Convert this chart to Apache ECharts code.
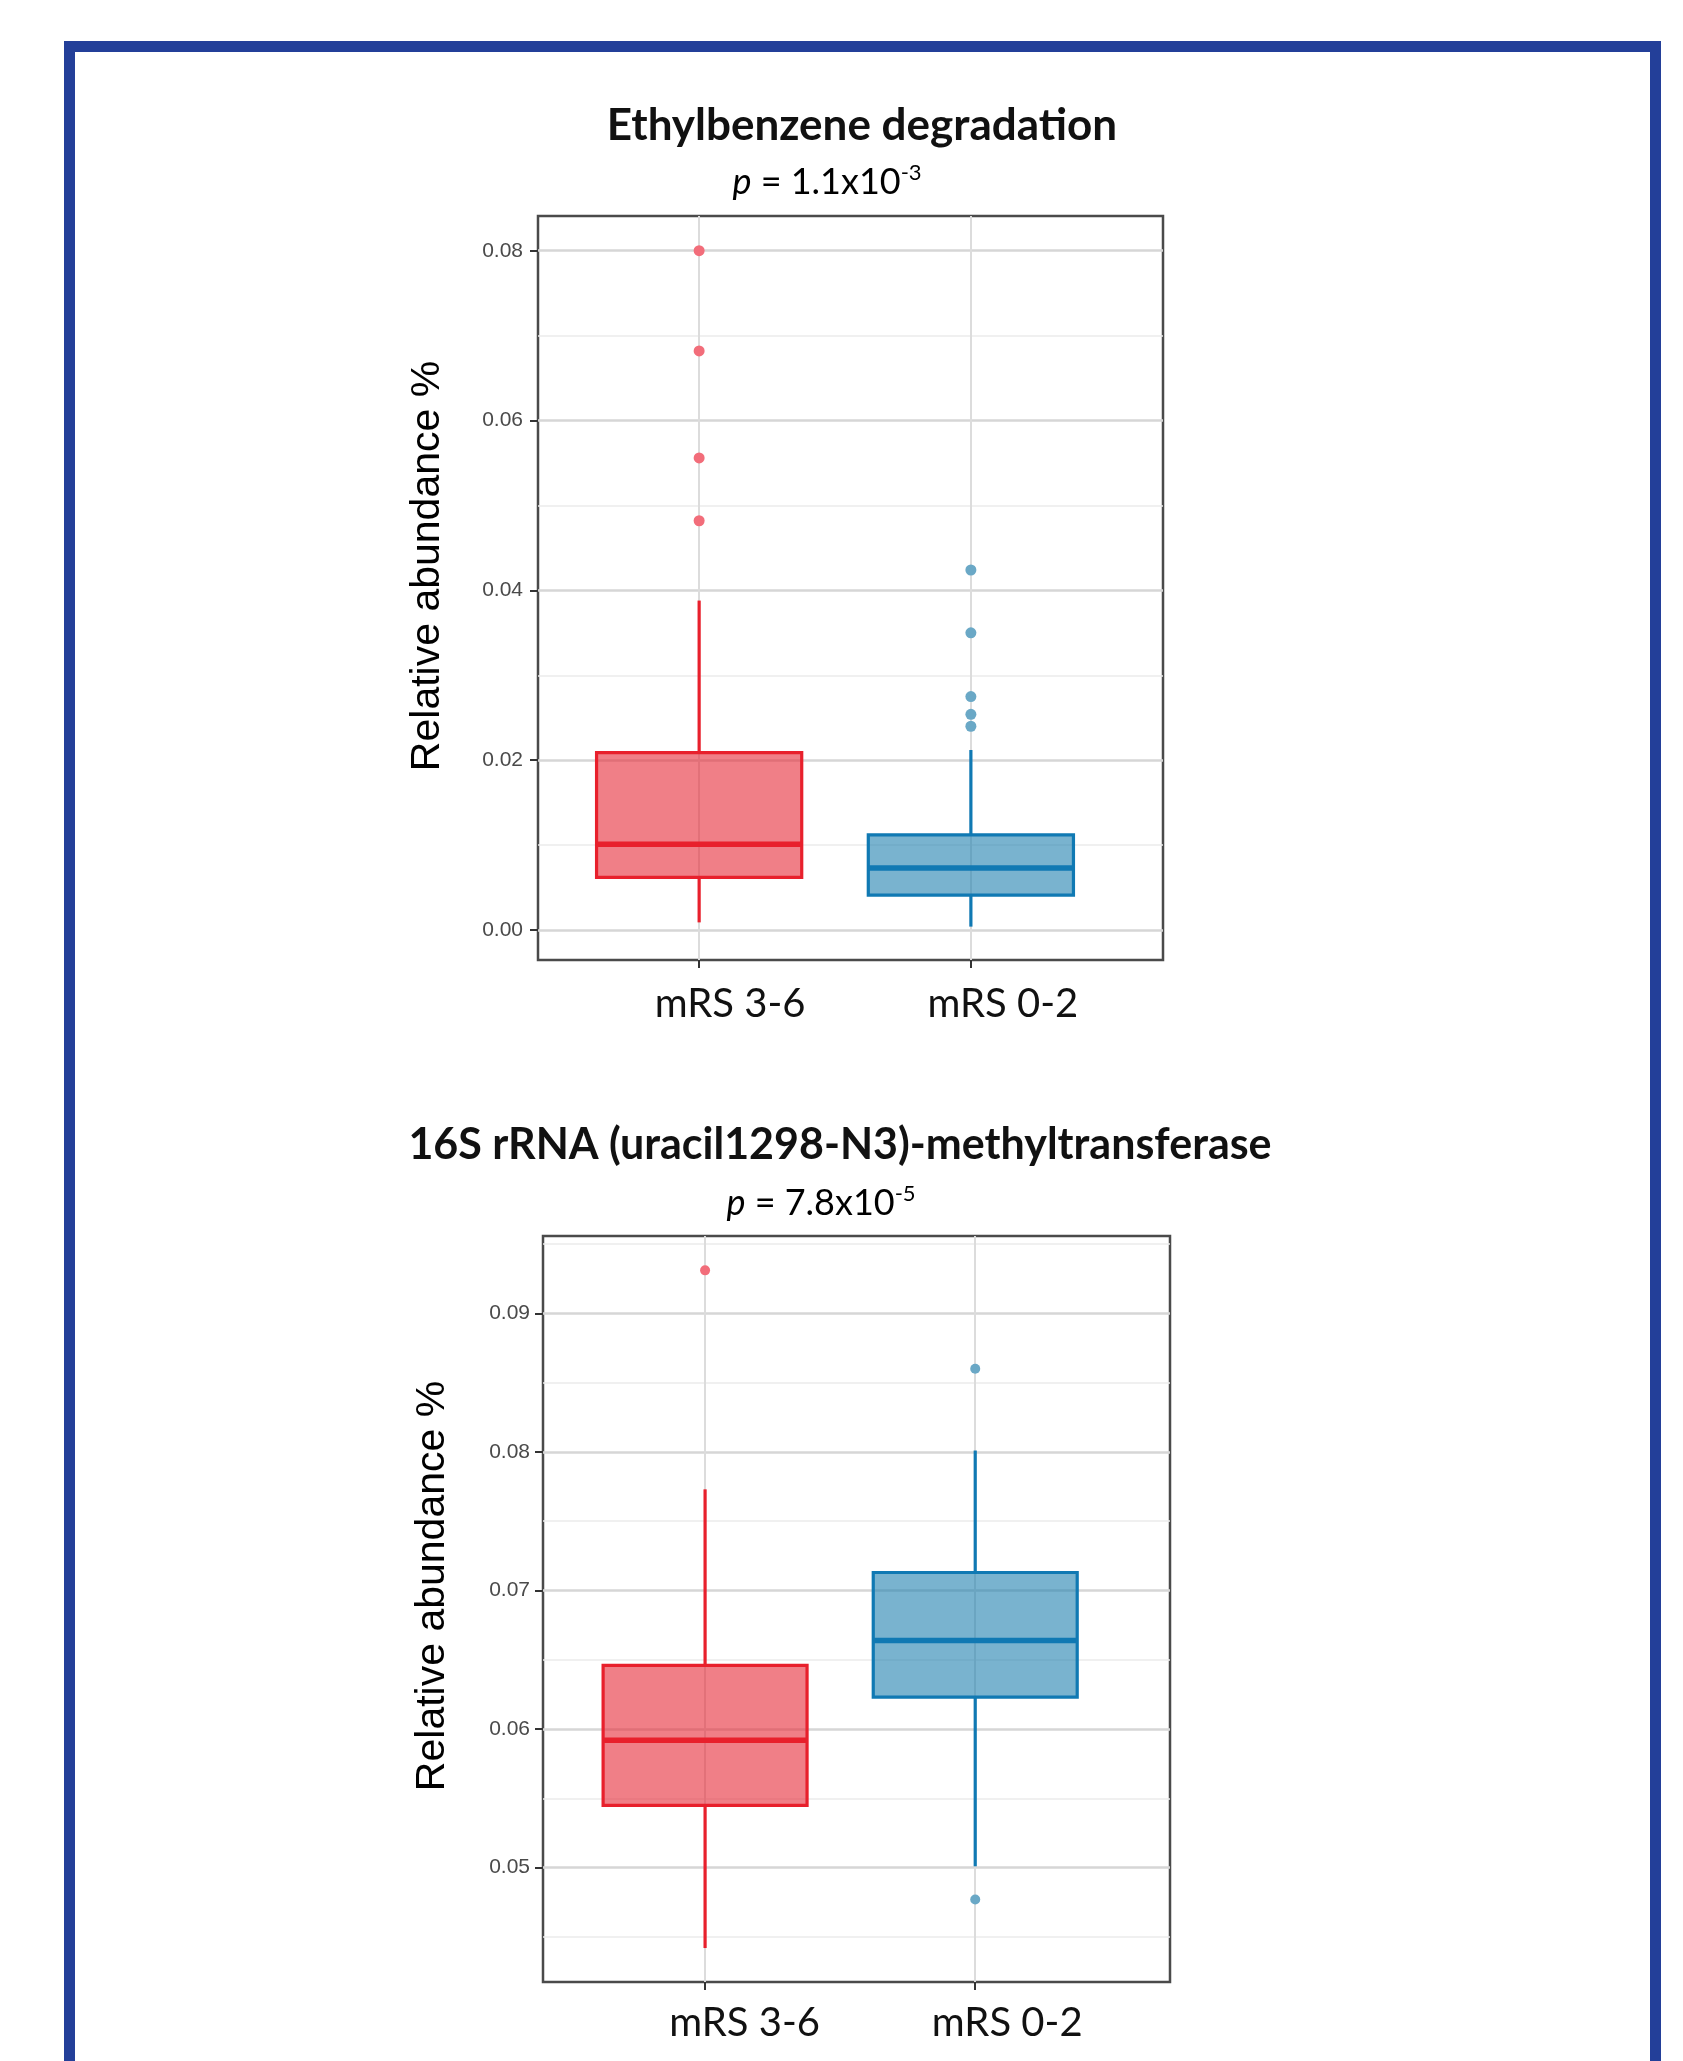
<!DOCTYPE html>
<html>
<head>
<meta charset="utf-8">
<script src="https://cdn.jsdelivr.net/npm/echarts@6/dist/echarts.min.js"></script>
<style>
html,body{margin:0;padding:0;background:#fff;}
#chart{width:1683px;height:2061px;}
</style>
</head>
<body>
<div id="chart"></div>
<script>
// ---------------- data ----------------
const categories = ['mRS 3-6', 'mRS 0-2'];

// Panel 1: Ethylbenzene degradation
const title1 = 'Ethylbenzene degradation';
const pValue1 = ['1.1x10', '-3'];
// [lower whisker, Q1, median, Q3, upper whisker]
const ethylBoxRed = [0.0009, 0.0062, 0.0101, 0.0209, 0.0388];
const ethylBoxBlue = [0.0004, 0.0041, 0.0073, 0.0112, 0.0212];
const ethylOutRed = [0.0800, 0.0682, 0.0556, 0.0482];
const ethylOutBlue = [0.0424, 0.0350, 0.0275, 0.0254, 0.0240];
const ethylMajorTicks = [0, 0.02, 0.04, 0.06, 0.08];
const ethylMinorTicks = [0.01, 0.03, 0.05, 0.07];

// Panel 2: 16S rRNA (uracil1298-N3)-methyltransferase
const title2 = '16S rRNA (uracil1298-N3)-methyltransferase';
const pValue2 = ['7.8x10', '-5'];
const rrnaBoxRed = [0.0442, 0.0545, 0.0592, 0.0646, 0.0773];
const rrnaBoxBlue = [0.0501, 0.0623, 0.0664, 0.0713, 0.0801];
const rrnaOutRed = [0.0931];
const rrnaOutBlue = [0.0860, 0.0477];
const rrnaMajorTicks = [0.05, 0.06, 0.07, 0.08, 0.09];
const rrnaMinorTicks = [0.045, 0.055, 0.065, 0.075, 0.085, 0.095];

const yTitle = 'Relative abundance %';

// ---------------- styles ----------------
const STROKE = ['#e8202c', '#1079b3'];
const FILL = ['rgba(230,42,55,0.6)', 'rgba(32,128,175,0.6)'];
const DOT = ['#f26d7a', '#6aa8c6'];
const BOX_W = 0.755;

function boxData(red, blue) {
  return [[1].concat(red), [2].concat(blue)];
}
function outData(red, blue) {
  return red.map(v => [1, v]).concat(blue.map(v => [2, v]));
}

function renderBox(params, api) {
  const x = api.value(0);
  const idx = x - 1;
  const lo = api.coord([x, api.value(1)]);
  const q1 = api.coord([x, api.value(2)]);
  const med = api.coord([x, api.value(3)]);
  const q3 = api.coord([x, api.value(4)]);
  const hi = api.coord([x, api.value(5)]);
  const half = api.size([BOX_W, 0])[0] / 2;
  const s = STROKE[idx];
  return {
    type: 'group',
    children: [
      {type: 'line', shape: {x1: lo[0], y1: lo[1], x2: q1[0], y2: q1[1]}, style: {stroke: s, lineWidth: 3.2}},
      {type: 'line', shape: {x1: q3[0], y1: q3[1], x2: hi[0], y2: hi[1]}, style: {stroke: s, lineWidth: 3.2}},
      {type: 'rect', shape: {x: q1[0] - half, y: q3[1], width: half * 2, height: q1[1] - q3[1]},
        style: {fill: FILL[idx], stroke: s, lineWidth: 3.2}},
      {type: 'line', shape: {x1: med[0] - half, y1: med[1], x2: med[0] + half, y2: med[1]},
        style: {stroke: s, lineWidth: 5.5}}
    ]
  };
}

const tickLabelStyle = {fontFamily: 'Liberation Sans', fontSize: 21, color: '#4a4a4a'};
const majorLine = {color: '#d6d6d6', width: 2.5};
const minorLine = {color: '#ebebeb', width: 1.5};
const vLine = {color: '#dcdcdc', width: 2};

function xAxisFor(gridIndex, min, max, margin, pads) {
  return {
    type: 'value', gridIndex, min, max,
    axisLine: {show: false, onZero: false},
    axisTick: {show: true, length: 8, customValues: [1, 2], lineStyle: {color: '#333', width: 2}},
    axisLabel: {
      show: true, margin, customValues: [1, 2],
      formatter: v => '{c' + v + '|' + categories[v - 1] + '}',
      rich: {
        c1: {fontFamily: 'Lato', fontSize: 40, lineHeight: 40, color: '#111', padding: [0, 0, 0, pads[0]]},
        c2: {fontFamily: 'Lato', fontSize: 40, lineHeight: 40, color: '#111', padding: [0, 0, 0, pads[1]]}
      }
    },
    splitLine: {show: true, lineStyle: vLine}
  };
}
function yAxisMajor(gridIndex, min, max, ticks, margin) {
  return {
    type: 'value', gridIndex, min, max, position: 'left',
    axisLine: {show: false, onZero: false},
    axisTick: {show: true, length: 8, customValues: ticks, lineStyle: {color: '#333', width: 2}},
    axisLabel: Object.assign({show: true, margin, customValues: ticks,
      formatter: v => v.toFixed(2)}, tickLabelStyle),
    splitLine: {show: true, lineStyle: majorLine}
  };
}
function yAxisMinor(gridIndex, min, max, ticks) {
  return {
    type: 'value', gridIndex, min, max, position: 'left',
    axisLine: {show: false, onZero: false},
    axisTick: {show: false, customValues: ticks},
    axisLabel: {show: false, customValues: ticks},
    splitLine: {show: true, lineStyle: minorLine}
  };
}

function pText(parts) {
  return '{i|p}{n| = ' + parts[0] + '}{s|' + parts[1] + '}';
}
const pRich = {
  i: {fontFamily: 'Lato', fontStyle: 'italic', fontSize: 36, lineHeight: 40, fill: '#000'},
  n: {fontFamily: 'Lato', fontSize: 36, lineHeight: 40, fill: '#000'},
  s: {fontFamily: 'Lato', fontSize: 22, lineHeight: 40, verticalAlign: 'top', fill: '#000'}
};

const option = {
  backgroundColor: '#fff',
  animation: false,
  grid: [
    {left: 538, top: 216, width: 625, height: 744, show: true, borderColor: '#4a4a4a', borderWidth: 2.5, backgroundColor: 'transparent'},
    {left: 543, top: 1236, width: 627, height: 746, show: true, borderColor: '#4a4a4a', borderWidth: 2.5, backgroundColor: 'transparent'}
  ],
  xAxis: [
    xAxisFor(0, 0.407, 2.707, 24, [62, 64]),
    xAxisFor(1, 0.4, 2.721, 21, [79, 64])
  ],
  yAxis: [
    yAxisMinor(0, -0.00353, 0.08409, ethylMinorTicks),
    yAxisMajor(0, -0.00353, 0.08409, ethylMajorTicks, 15),
    yAxisMinor(1, 0.04175, 0.09558, rrnaMinorTicks),
    yAxisMajor(1, 0.04175, 0.09558, rrnaMajorTicks, 13)
  ],
  series: [
    {type: 'custom', xAxisIndex: 0, yAxisIndex: 1, renderItem: renderBox,
      encode: {x: 0, y: [1, 2, 3, 4, 5]}, data: boxData(ethylBoxRed, ethylBoxBlue), z: 3},
    {type: 'scatter', xAxisIndex: 0, yAxisIndex: 1, symbolSize: 11, z: 4,
      itemStyle: {color: p => DOT[p.data[0] - 1], opacity: 1},
      data: outData(ethylOutRed, ethylOutBlue)},
    {type: 'custom', xAxisIndex: 1, yAxisIndex: 3, renderItem: renderBox,
      encode: {x: 0, y: [1, 2, 3, 4, 5]}, data: boxData(rrnaBoxRed, rrnaBoxBlue), z: 3},
    {type: 'scatter', xAxisIndex: 1, yAxisIndex: 3, symbolSize: 10, z: 4,
      itemStyle: {color: p => DOT[p.data[0] - 1], opacity: 1},
      data: outData(rrnaOutRed, rrnaOutBlue)}
  ],
  graphic: [
    {type: 'rect', silent: true, z: 100,
      shape: {x: 69.5, y: 46.5, width: 1586, height: 2100},
      style: {fill: 'none', stroke: '#233f99', lineWidth: 11}},
    {type: 'text', x: 862, y: 126, z: 100,
      style: {text: title1, fontFamily: 'Lato', fontWeight: 'bold', fontSize: 44, fill: '#111', align: 'center', verticalAlign: 'middle'}},
    {type: 'text', x: 827, y: 182, z: 100,
      style: {text: pText(pValue1), rich: pRich, align: 'center', verticalAlign: 'middle'}},
    {type: 'text', x: 840, y: 1145, z: 100,
      style: {text: title2, fontFamily: 'Lato', fontWeight: 'bold', fontSize: 43, fill: '#111', align: 'center', verticalAlign: 'middle'}},
    {type: 'text', x: 821, y: 1203, z: 100,
      style: {text: pText(pValue2), rich: pRich, align: 'center', verticalAlign: 'middle'}},
    {type: 'text', x: 428, y: 566, rotation: Math.PI / 2, z: 100,
      style: {text: yTitle, fontFamily: 'Liberation Sans', fontSize: 41, fill: '#000', align: 'center', verticalAlign: 'middle'}},
    {type: 'text', x: 433, y: 1586, rotation: Math.PI / 2, z: 100,
      style: {text: yTitle, fontFamily: 'Liberation Sans', fontSize: 41, fill: '#000', align: 'center', verticalAlign: 'middle'}}
  ]
};

const chart = echarts.init(document.getElementById('chart'), null, {renderer: 'canvas', width: 1683, height: 2061});
chart.setOption(option);
</script>
</body>
</html>
